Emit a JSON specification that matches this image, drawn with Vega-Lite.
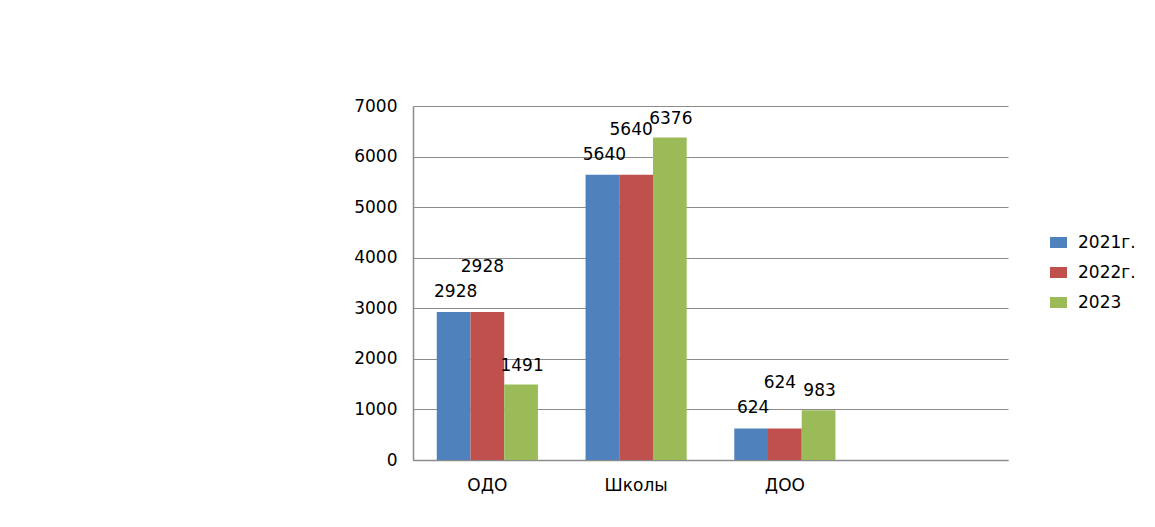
{
  "$schema": "https://vega.github.io/schema/vega-lite/v6.json",
  "autosize": {"type": "none"},
  "width": 595,
  "height": 354,
  "padding": {"left": 413, "top": 106, "right": 147, "bottom": 67},
  "background": "white",
  "config": {
    "view": {"stroke": null},
    "font": "DejaVu Sans",
    "axis": {"labelFont": "DejaVu Sans", "labelFontSize": 17, "labelColor": "#000000", "domainColor": "#8c8c8c", "domainWidth": 1.5, "ticks": false, "tickSize": 0, "gridColor": "#8c8c8c", "gridWidth": 1.2, "title": null},
    "legend": {"labelFont": "DejaVu Sans", "labelFontSize": 17, "labelColor": "#000000"}
  },
  "data": {
    "values": [
      {"cat": "ОДО", "series": "2021г.", "value": 2928},
      {"cat": "ОДО", "series": "2022г.", "value": 2928},
      {"cat": "ОДО", "series": "2023", "value": 1491},
      {"cat": "Школы", "series": "2021г.", "value": 5640},
      {"cat": "Школы", "series": "2022г.", "value": 5640},
      {"cat": "Школы", "series": "2023", "value": 6376},
      {"cat": "ДОО", "series": "2021г.", "value": 624},
      {"cat": "ДОО", "series": "2022г.", "value": 624},
      {"cat": "ДОО", "series": "2023", "value": 983}
    ]
  },
  "encoding": {
    "x": {
      "field": "cat", "type": "nominal",
      "scale": {"domain": ["ОДО", "Школы", "ДОО", "пусто"], "paddingInner": 0.32, "paddingOuter": 0.16},
      "axis": {"labelAngle": 0, "labelPadding": 17, "labelExpr": "datum.value === 'пусто' ? '' : datum.label", "grid": false}
    },
    "xOffset": {"field": "series", "type": "nominal", "scale": {"domain": ["2021г.", "2022г.", "2023"], "paddingInner": 0, "paddingOuter": 0}},
    "y": {
      "field": "value", "type": "quantitative",
      "scale": {"domain": [0, 7000], "nice": false},
      "axis": {"values": [0, 1000, 2000, 3000, 4000, 5000, 6000, 7000], "format": "d", "labelPadding": 16, "grid": true}
    }
  },
  "layer": [
    {
      "mark": {"type": "bar"},
      "encoding": {
        "color": {
          "field": "series", "type": "nominal",
          "scale": {"domain": ["2021г.", "2022г.", "2023"], "range": ["#4F81BD", "#C0504D", "#9BBB59"]},
          "legend": {
            "title": null, "orient": "none", "legendX": 637, "legendY": 128,
            "padding": 0, "symbolType": "M-1,-0.65L1,-0.65L1,0.65L-1,0.65Z", "symbolSize": 289,
            "symbolStrokeWidth": 0, "labelOffset": 11, "rowPadding": 12
          }
        }
      }
    },
    {
      "transform": [{"filter": "datum.series === '2021г.'"}],
      "mark": {"type": "text", "dy": -20, "dx": 2, "fontSize": 17, "font": "DejaVu Sans", "color": "#000000", "baseline": "middle"},
      "encoding": {"text": {"field": "value", "type": "quantitative", "format": "d"}}
    },
    {
      "transform": [{"filter": "datum.series === '2022г.'"}],
      "mark": {"type": "text", "dy": -45, "dx": -5, "fontSize": 17, "font": "DejaVu Sans", "color": "#000000", "baseline": "middle"},
      "encoding": {"text": {"field": "value", "type": "quantitative", "format": "d"}}
    },
    {
      "transform": [{"filter": "datum.series === '2023'"}],
      "mark": {"type": "text", "dy": -19, "dx": 1, "fontSize": 17, "font": "DejaVu Sans", "color": "#000000", "baseline": "middle"},
      "encoding": {"text": {"field": "value", "type": "quantitative", "format": "d"}}
    }
  ]
}
